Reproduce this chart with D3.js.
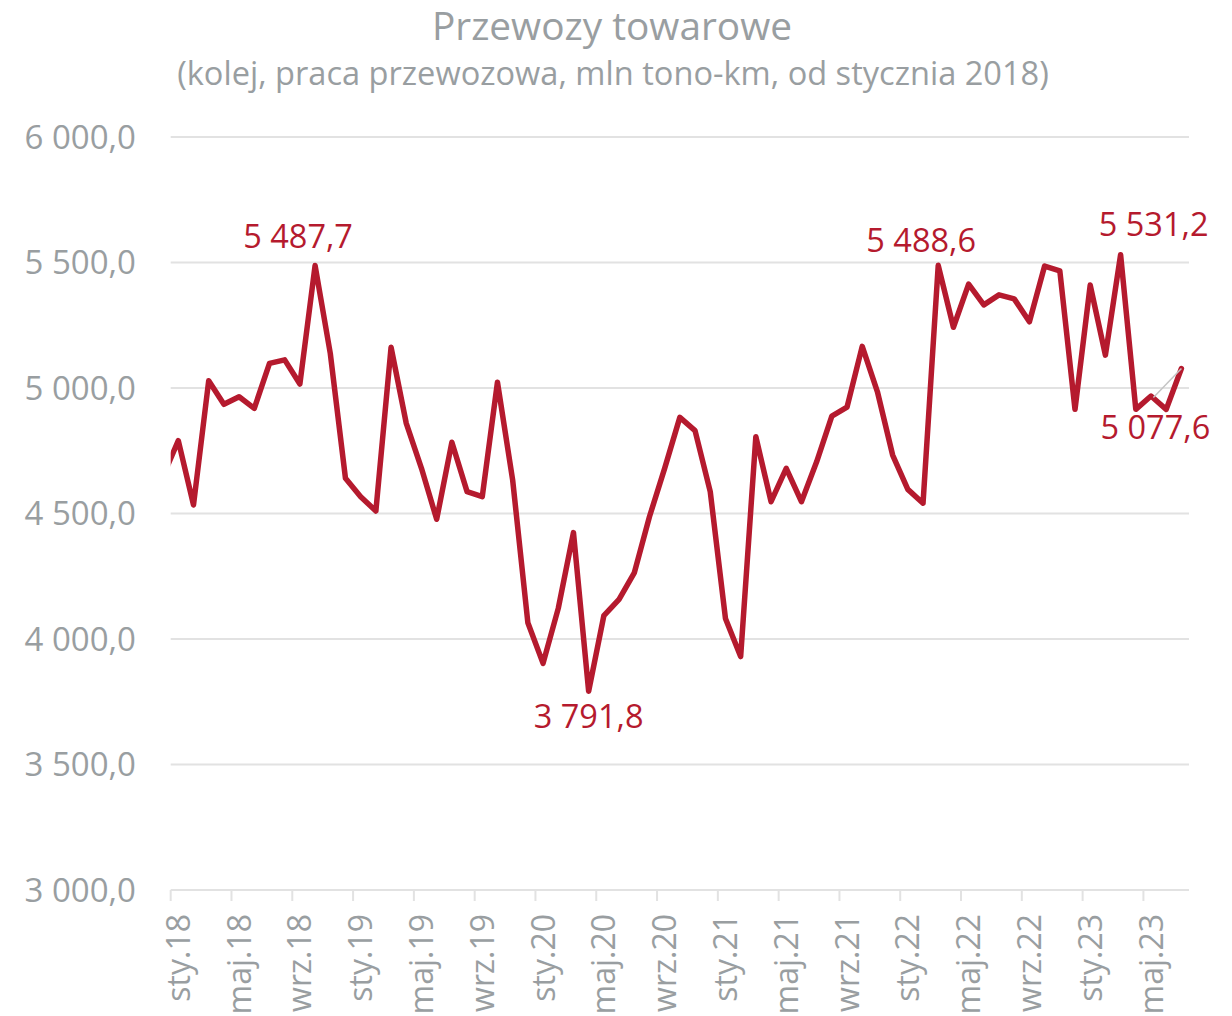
<!DOCTYPE html>
<html>
<head>
<meta charset="utf-8">
<script src="https://cdn.jsdelivr.net/npm/d3@7/dist/d3.min.js"></script>
<style>
  html, body { margin: 0; padding: 0; background: #ffffff; }
  svg { display: block; }
  text { font-family: "Open Sans", "Noto Sans", sans-serif; }
</style>
</head>
<body>
<svg id="chart" width="1232" height="1016"></svg>
<script>
// ---------- data ----------
const title = "Przewozy towarowe";
const subtitle = "(kolej, praca przewozowa, mln tono-km, od stycznia 2018)";

const categories = [
  "sty.18","lut.18","mar.18","kwi.18","maj.18","cze.18","lip.18","sie.18","wrz.18","paź.18","lis.18","gru.18",
  "sty.19","lut.19","mar.19","kwi.19","maj.19","cze.19","lip.19","sie.19","wrz.19","paź.19","lis.19","gru.19",
  "sty.20","lut.20","mar.20","kwi.20","maj.20","cze.20","lip.20","sie.20","wrz.20","paź.20","lis.20","gru.20",
  "sty.21","lut.21","mar.21","kwi.21","maj.21","cze.21","lip.21","sie.21","wrz.21","paź.21","lis.21","gru.21",
  "sty.22","lut.22","mar.22","kwi.22","maj.22","cze.22","lip.22","sie.22","wrz.22","paź.22","lis.22","gru.22",
  "sty.23","lut.23","mar.23","kwi.23","maj.23","cze.23","lip.23"
];

const values = [
  4790, 4534, 5029, 4935, 4965, 4919, 5098, 5112, 5016, 5487.7, 5138, 4640,
  4567, 4510, 5162, 4859, 4680, 4477, 4784, 4587, 4567, 5023, 4633, 4065,
  3903, 4122, 4424, 3791.8, 4093, 4158, 4263, 4487, 4680, 4883, 4830, 4587,
  4082, 3930, 4806, 4547, 4680, 4547, 4706, 4888, 4924, 5166, 4985, 4733,
  4596, 4541, 5488.6, 5242, 5414, 5331, 5371, 5355, 5264, 5486, 5467, 4915,
  5410, 5131, 5531.2, 4915, 4968, 4915, 5077.6
];

// value of the month before the first category (gru.17); only its clipped segment is visible
const previousValue = 4649;

const tickLabels = ["sty.18","maj.18","wrz.18","sty.19","maj.19","wrz.19","sty.20","maj.20","wrz.20",
                    "sty.21","maj.21","wrz.21","sty.22","maj.22","wrz.22","sty.23","maj.23"];

const yTicks = [3000, 3500, 4000, 4500, 5000, 5500, 6000];

const labelledPoints = ["paź.18", "kwi.20", "mar.22", "mar.23", "lip.23"];

// ---------- layout ----------
const plot = { left: 170.7, right: 1189, top: 137, bottom: 890 };
const grey = "#999ea1";
const red = "#b51a2e";
const gridColor = "#e2e2e2";

const pl = d3.formatLocale({ decimal: ",", thousands: " ", grouping: [3], currency: ["", " zł"] });
const fmt = pl.format(",.1f");

const svg = d3.select("#chart");

const x = d3.scaleBand().domain(categories).range([plot.left, plot.right]).padding(0);
const step = x.step();
const cx = c => x(c) + step / 2;
const y = d3.scaleLinear().domain([3000, 6000]).range([plot.bottom, plot.top]);

// title
svg.append("text").attr("x", 612).attr("y", 40).attr("text-anchor", "middle")
  .attr("font-size", 38.8).attr("fill", grey).text(title);
svg.append("text").attr("x", 613).attr("y", 85).attr("text-anchor", "middle")
  .attr("font-size", 32.6).attr("fill", grey).text(subtitle);

// gridlines
svg.append("g").selectAll("line").data(yTicks).join("line")
  .attr("x1", plot.left).attr("x2", plot.right)
  .attr("y1", d => y(d)).attr("y2", d => y(d))
  .attr("stroke", gridColor).attr("stroke-width", 2);

// y labels
svg.append("g").selectAll("text").data(yTicks).join("text")
  .attr("x", 136).attr("y", d => y(d)).attr("dy", "0.36em")
  .attr("text-anchor", "end").attr("font-size", 33).attr("fill", grey)
  .text(d => fmt(d));

// x tick marks at category boundaries every 4 months
const tickCats = categories.filter((c, i) => i % 4 === 0);
svg.append("g").selectAll("line").data(tickCats).join("line")
  .attr("x1", d => x(d)).attr("x2", d => x(d))
  .attr("y1", plot.bottom).attr("y2", plot.bottom + 11)
  .attr("stroke", gridColor).attr("stroke-width", 2);

// x labels
svg.append("g").selectAll("text").data(tickLabels).join("text")
  .attr("transform", d => `translate(${cx(d)},${plot.bottom + 24}) rotate(-90)`)
  .attr("dy", "0.36em")
  .attr("text-anchor", "end").attr("font-size", 32).attr("fill", grey)
  .text(d => d);

// clip
svg.append("clipPath").attr("id", "plotclip").append("rect")
  .attr("x", plot.left).attr("y", 0).attr("width", plot.right - plot.left).attr("height", 1016);

const pts = values.map((v, i) => [cx(categories[i]), y(v)]);
pts.unshift([cx(categories[0]) - step, y(previousValue)]);

svg.append("path")
  .attr("clip-path", "url(#plotclip)")
  .attr("d", d3.line()(pts))
  .attr("fill", "none").attr("stroke", red).attr("stroke-width", 5.5)
  .attr("stroke-linejoin", "round").attr("stroke-linecap", "round");

// data labels (offsets from their points)
const labelOffsets = {
  "paź.18": [-17, -18],
  "kwi.20": [0, 37],
  "mar.22": [-17, -13],
  "mar.23": [33, -19],
  "lip.23": [-26, 70]
};

// leader line for last label
const lastCat = "lip.23";
const lastV = values[categories.indexOf(lastCat)];
svg.append("line")
  .attr("x1", cx(lastCat) - 28).attr("y1", y(lastV) + 29)
  .attr("x2", cx(lastCat)).attr("y2", y(lastV))
  .attr("stroke", "#c4c4c4").attr("stroke-width", 1.5);

svg.append("g").selectAll("text").data(labelledPoints).join("text")
  .attr("x", d => cx(d) + labelOffsets[d][0])
  .attr("y", d => y(values[categories.indexOf(d)]) + labelOffsets[d][1])
  .attr("text-anchor", "middle").attr("font-size", 32.5).attr("fill", red)
  .text(d => fmt(values[categories.indexOf(d)]));
</script>
</body>
</html>
